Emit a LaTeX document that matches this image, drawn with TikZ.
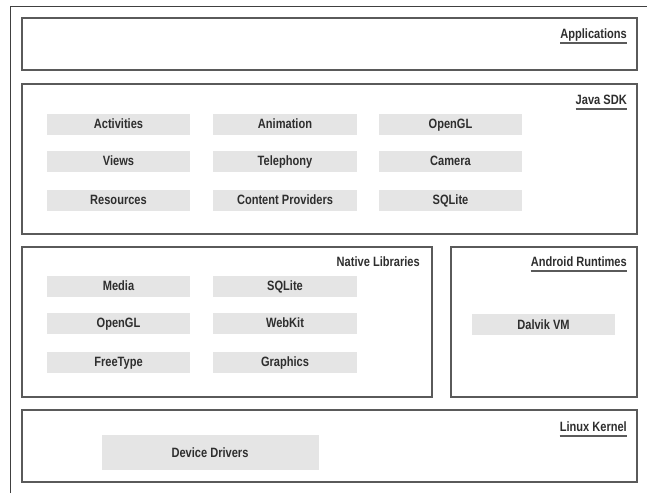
\documentclass[tikz,border=0pt]{standalone}
\usepackage{fontspec}
\newfontfamily\archfont[FakeStretch=0.82]{Liberation Sans}
\usepackage{tikz}
\usetikzlibrary{positioning}
\usepackage{xcolor}
\definecolor{framegray}{HTML}{5A5A5A}
\definecolor{modgray}{HTML}{E5E5E5}
\definecolor{inkgray}{HTML}{2E2E2E}

\begin{document}
\begin{tikzpicture}[
          x=1pt, y=-1pt,
          every node/.style={font=\archfont\bfseries\fontsize{13.5}{15}\selectfont, text=inkgray},
          layer/.style={draw=framegray, line width=1.3pt},
          module/.style={fill=modgray, minimum width=143.5pt, minimum height=21pt, inner sep=0pt,
            text height=9.7pt, text depth=0pt},
          heading/.style={anchor=base east, inner sep=0pt},
          underline/.style={draw=framegray, line width=1.2pt},
        ]
        \useasboundingbox (0,0) rectangle (647,493);
        % Outer frame (top and left only)
        \draw[black!75, line width=1pt] (10,493) -- (10,6) -- (647,6);

        % Layers
        \draw[layer] (22,18) rectangle (637,70);
        \draw[layer] (22,84) rectangle (637,234);
        \draw[layer] (22,247) rectangle (432,397);
        \draw[layer] (451,247) rectangle (637,397);
        \draw[layer] (22,410) rectangle (637,482);

        % Layer headings
        \node[heading] (apps) at (627,38) {Applications};
        \node[heading] (sdk) at (627,104) {Java SDK};
        \node[heading] (natlib) at (420,266) {Native Libraries};
        \node[heading] (runtime) at (627,266) {Android Runtimes};
        \node[heading] (kernel) at (627,431) {Linux Kernel};
        \foreach \h in {apps, sdk, runtime, kernel} {
          \draw[underline] ([yshift=-5pt]\h.base west) -- ([yshift=-5pt]\h.base east);
        }

        % Java SDK modules
        \foreach \name/\txt/\x/\y in {
            act/Activities/118.5/124, anim/Animation/285/124, sdkgl/OpenGL/450.5/124,
            views/Views/118.5/161, tel/Telephony/285/161, cam/Camera/450.5/161,
            res/Resources/118.5/200, cprov/Content Providers/285/200, sdksql/SQLite/450.5/200} {
          \node[module] (\name) at (\x,\y) {\txt};
        }

        % Native library modules
        \foreach \name/\txt/\x/\y in {
            media/Media/118.5/286, natsql/SQLite/285/286,
            natgl/OpenGL/118.5/323, webkit/WebKit/285/323,
            ftype/FreeType/118.5/362, gfx/Graphics/285/362} {
          \node[module] (\name) at (\x,\y) {\txt};
        }

        % Runtime and kernel
        \node[module] (dalvik) at (543.5,324.5) {Dalvik VM};
        \node[module, minimum width=217pt, minimum height=35pt] (drivers) at (210,452.5) {Device Drivers};
      \end{tikzpicture}
\end{document}
